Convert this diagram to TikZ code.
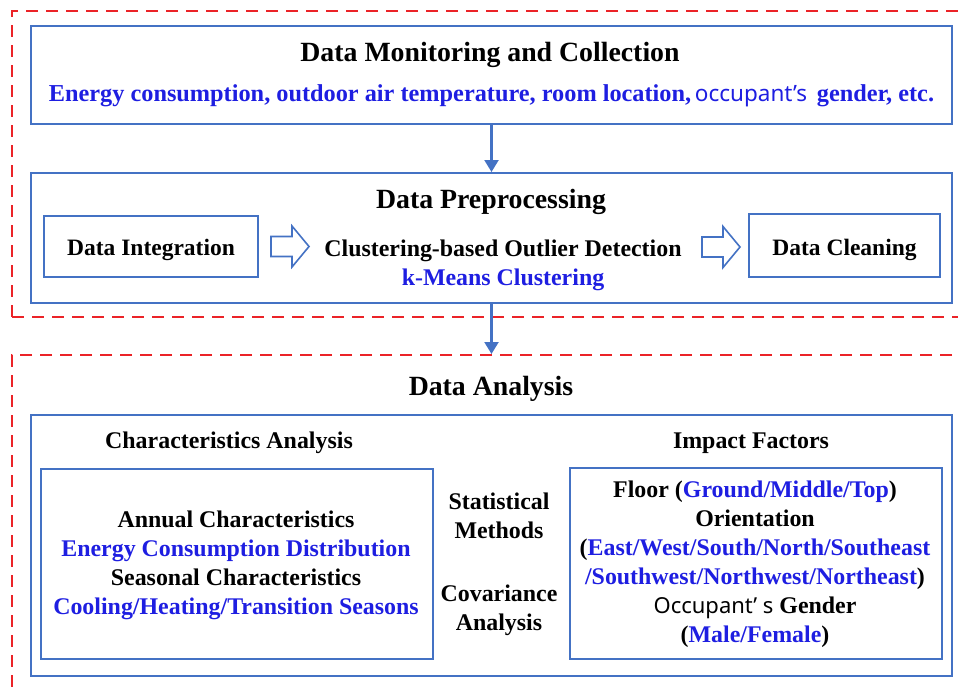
\documentclass[tikz,border=0pt]{standalone}
\usepackage{fontspec}
\setmainfont{Liberation Serif}
\newfontfamily\occfont{Noto Sans}
\usetikzlibrary{arrows.meta,calc,positioning}
\definecolor{boxblue}{RGB}{68,114,196}
\definecolor{txtblue}{RGB}{30,30,225}
\definecolor{dashred}{RGB}{235,35,40}
\tikzset{
groupbox/.style={draw=dashred, line width=2.4pt, dash pattern=on 12pt off 8pt, inner sep=0pt}, % red dashed frame
stagebox/.style={draw=boxblue, line width=2pt, inner sep=0pt, anchor=north west},
titletext/.style={font=\bfseries\fontsize{27.8}{32}\selectfont, anchor=base, inner sep=0pt},
bodytext/.style={font=\bfseries\fontsize{23.9}{29}\selectfont, anchor=base, inner sep=0pt, align=center},
flow/.style={draw=boxblue, line width=2.2pt, -{Triangle[width=14pt,length=12pt]}},
hollow/.pic={\draw[boxblue, line width=1.6pt, fill=white]
  (0,-10) -- (21,-10) -- (21,-20.5) -- (38,0) -- (21,20.5) -- (21,10) -- (0,10) -- cycle;}
}
\newcommand{\bl}[1]{\textcolor{txtblue}{#1}}

\begin{document}
\begin{tikzpicture}[x=1pt,y=-1pt]
\useasboundingbox (0,0) rectangle (958,690);
\clip (0,0) rectangle (958,690);
% dashed groups
\node[groupbox, anchor=north west, minimum width=980, minimum height=306] (collect) at (11,10) {};
\node[groupbox, anchor=north west, minimum width=980, minimum height=360] (analysisgrp) at (11,354) {};
% monitoring
\node[stagebox, minimum width=921, minimum height=98] (monbox) at (30,25) {};
\node[titletext] (montitle) at (490,62) {Data Monitoring and Collection};
\node[bodytext, font=\bfseries\fontsize{24.3}{29}\selectfont] (montext) at (491.5,101.5) {\color{txtblue}Energy consumption, outdoor air temperature, room location,{\occfont\mdseries\fontsize{22.5}{29}\selectfont\,occupant’s\,} gender, etc.};
% preprocessing
\node[stagebox, minimum width=921, minimum height=130] (prepbox) at (30,172) {};
\node[titletext] (preptitle) at (491,208) {Data Preprocessing};
\node[stagebox, minimum width=214, minimum height=61] (integ) at (43,215) {};
\node[bodytext, font=\bfseries\fontsize{23.5}{29}\selectfont] at (integ.center |- 0,255) {Data Integration};
\node[bodytext] (outlier) at (503,285) {Clustering-based Outlier Detection\\ \bl{k-Means Clustering}};
\node[stagebox, minimum width=191, minimum height=63] (clean) at (748,213) {};
\node[bodytext, font=\bfseries\fontsize{23.5}{29}\selectfont] at (clean.center |- 0,255) {Data Cleaning};
\pic at ($(integ.east)+(12,0)$) {hollow};
\pic at ($(clean.west)+(-46,1.5)$) {hollow};
% analysis
\node[titletext] (antitle) at (491,395) {Data Analysis};
\node[stagebox, minimum width=921, minimum height=261] (anbox) at (30,414) {};
\node[bodytext] (charhead) at (229,448) {Characteristics Analysis};
\node[bodytext] (imphead) at (751,448) {Impact Factors};
\node[stagebox, minimum width=392, minimum height=190] (charbox) at (40,468) {};
\node[stagebox, minimum width=372, minimum height=191] (impbox) at (569,467) {};
\node[bodytext] (chartext) at (236,614) {Annual Characteristics\\ \bl{Energy Consumption Distribution}\\ Seasonal Characteristics\\ \bl{Cooling/Heating/Transition Seasons}};
\node[bodytext] (stat) at (499,538) {Statistical\\ Methods};
\node[bodytext] (covar) at (499,630) {Covariance\\ Analysis};
\node[bodytext] (imptext) at (755,642) {Floor (\bl{Ground/Middle/Top})\\ Orientation\\ (\bl{East/West/South/North/Southeast}\\ \bl{/Southwest/Northwest/Northeast})\\ {\occfont\mdseries\fontsize{22}{29}\selectfont Occupant’ s} Gender\\ (\bl{Male/Female})};
% flow arrows
\draw[flow] (monbox.south) -- (prepbox.north);
\draw[flow] (prepbox.south) -- (prepbox.south |- analysisgrp.north);
\end{tikzpicture}
\end{document}
